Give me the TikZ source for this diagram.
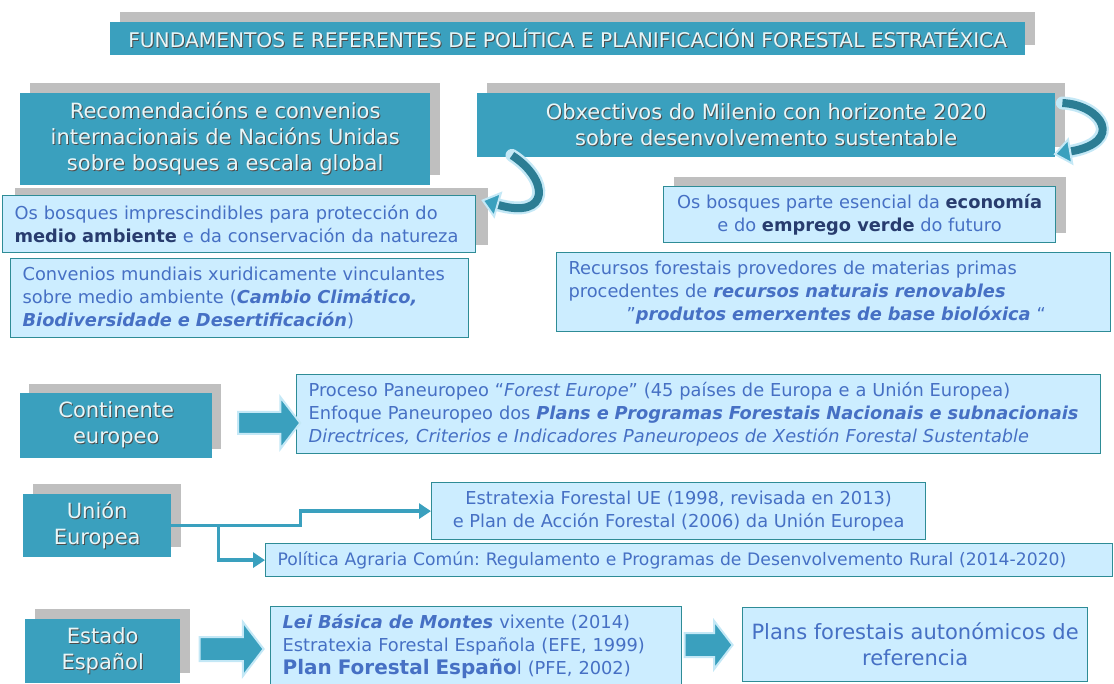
\documentclass[tikz,border=0pt]{standalone}
\usepackage{fontspec}
\setmainfont{DejaVu Sans}
\usetikzlibrary{shapes.arrows,shadows,arrows.meta,calc}
\definecolor{boxblue}{RGB}{58,160,190}
\definecolor{shgray}{RGB}{191,191,191}
\definecolor{lightfill}{RGB}{204,237,255}
\definecolor{lightedge}{RGB}{46,140,150}
\definecolor{txtblue}{RGB}{70,112,196}
\definecolor{txtdark}{RGB}{40,60,110}
\definecolor{paletxt}{RGB}{232,246,248}
\definecolor{arrowdark}{RGB}{44,125,148}
\definecolor{arrowlight}{RGB}{196,232,246}
\newcommand\shd[1]{\leavevmode\rlap{\kern1pt\raisebox{-1pt}{\color{black!70}#1}}#1}
\newcommand\embi[1]{{\bfseries\itshape #1}}
\newcommand\emdk[1]{{\color{txtdark}\bfseries #1}}
\tikzset{
  darkbox/.style={fill=boxblue, text=paletxt, align=center, anchor=north west, inner sep=0pt,
    font=\fontsize{21}{26}\selectfont},
  shad/.style={drop shadow={shadow xshift=#1, shadow yshift=#1, fill=shgray, opacity=1}},
  lightbox/.style={fill=lightfill, draw=lightedge, line width=1.2pt, text=txtblue,
    anchor=north west, inner sep=0pt, font=\fontsize{17.8}{23}\selectfont},
  blockarrow/.style={single arrow, fill=boxblue, draw=arrowlight, line width=2pt,
    inner sep=0pt, single arrow head extend=15pt, single arrow tip angle=105},
  conn/.style={draw=boxblue, line width=3.5pt, -{Triangle[length=12pt,width=15pt]}},
  curvout/.style={draw=arrowlight, line width=13pt, line cap=round},
  curvin/.style={draw=arrowdark, line width=8pt,
    -{Triangle[length=18pt,width=28pt,fill=boxblue,color=arrowlight,line width=2pt]}},
}
\begin{document}
\frenchspacing
\begin{tikzpicture}[x=1pt,y=-1pt]
\useasboundingbox (0,0) rectangle (1114,684);

% title
\node[darkbox, shad=10pt, minimum width=915pt, minimum height=33pt,
  font=\fontsize{20.2}{22}\selectfont] (title) at (110,22)
  {\shd{FUNDAMENTOS E REFERENTES DE POLÍTICA E PLANIFICACIÓN FORESTAL ESTRATÉXICA}};

% top left
\node[darkbox, shad=10pt, minimum width=410pt, minimum height=92pt] (A) at (20,93)
  {\shd{Recomendacións e convenios}\\\shd{internacionais de Nacións Unidas}\\\shd{sobre bosques a escala global}};
\node[lightbox, drop shadow={shadow xshift=12pt, shadow yshift=8pt, fill=shgray, opacity=1},
  minimum height=57pt, text width=449pt, inner xsep=12pt, align=left] (C) at (2,195)
  {Os bosques imprescindibles para protección do\\\emdk{medio ambiente} e da conservación da natureza};
\node[lightbox, minimum height=79pt, text width=434pt, inner xsep=12pt, align=left] (D) at (10,258)
  {Convenios mundiais xuridicamente vinculantes\\sobre medio ambiente (\embi{Cambio Climático,}\\\embi{Biodiversidade e Desertificación})};

% top right
\node[darkbox, shad=10pt, minimum width=578pt, minimum height=64pt] (B) at (477,93)
  {\shd{Obxectivos do Milenio con horizonte 2020}\\\shd{sobre desenvolvemento sustentable}};
\node[lightbox, shad=10pt, minimum width=392pt, minimum height=56pt, align=center] (E) at (663,186)
  {Os bosques parte esencial da \emdk{economía}\\e do \emdk{emprego verde} do futuro};
\node[lightbox, minimum height=79pt, text width=530pt, inner xsep=12pt, align=left] (F) at (556,252)
  {Recursos forestais provedores de materias primas\\procedentes de \embi{recursos naturais renovables}\\\hspace*{58pt}"\embi{produtos emerxentes de base biolóxica} “};

% curved arrows
\draw[curvout, shorten >=16pt] ($(B.south west)+(35,-2)$) .. controls (550,180) and (550,220) .. ($(C.north east)+(5,5)$);
\draw[curvin] ($(B.south west)+(35,-2)$) .. controls (550,180) and (550,220) .. ($(C.north east)+(5,5)$);
\draw[curvout, shorten >=16pt] ($(B.north east)+(7,10)$) .. controls (1102,105) and (1125,142) .. ($(B.south east)+(-2,-3)$);
\draw[curvin] ($(B.north east)+(7,10)$) .. controls (1102,105) and (1125,142) .. ($(B.south east)+(-2,-3)$);

% continente europeo
\node[darkbox, shad=9pt, minimum width=192pt, minimum height=65pt] (G) at (20,393)
  {\shd{Continente}\\\shd{europeo}};
\node[lightbox, minimum height=79pt, text width=780pt, inner xsep=12pt, align=left] (H) at (296,374)
  {Proceso Paneuropeo “\textit{Forest Europe}” (45 países de Europa e a Unión Europea)\\Enfoque Paneuropeo dos \embi{Plans e Programas Forestais Nacionais e subnacionais}\\\textit{Directrices, Criterios e Indicadores Paneuropeos de Xestión Forestal Sustentable}};
\node[blockarrow, minimum height=62pt] (ar1) at (265,423) {\rule{0pt}{20pt}};

% union europea
\node[darkbox, shad=10pt, minimum width=148pt, minimum height=63pt] (I) at (23,494)
  {\shd{Unión}\\\shd{Europea}};
\node[lightbox, minimum width=494pt, minimum height=57pt, align=center] (J) at (431,482)
  {Estratexia Forestal UE (1998, revisada en 2013)\\e Plan de Acción Forestal (2006) da Unión Europea};
\node[lightbox, minimum height=33pt, text width=823pt, inner xsep=12pt, align=left,
  font=\fontsize{17.2}{23}\selectfont] (K) at (265,543)
  {Política Agraria Común: Regulamento e Programas de Desenvolvemento Rural (2014-2020)};
\draw[conn] (I.east) -- ($(I.east)+(129,0)$) |- (J.west);
\draw[conn] ($(I.east)+(47,0)$) |- (K.west);

% estado espanol
\node[darkbox, shad=10pt, minimum width=155pt, minimum height=64pt] (L) at (25,619)
  {\shd{Estado}\\\shd{Español}};
\node[lightbox, minimum height=80pt, text width=387pt, inner xsep=12pt, align=left] (M) at (270,606)
  {\embi{Lei Básica de Montes} vixente (2014)\\Estratexia Forestal Española (EFE, 1999)\\{\fontsize{20}{23}\selectfont\bfseries Plan Forestal Españo}l (PFE, 2002)};
\node[lightbox, minimum width=345pt, minimum height=74pt, align=center,
  font=\fontsize{21}{26}\selectfont] (N) at (742,607)
  {Plans forestais autonómicos de\\referencia};
\node[blockarrow, minimum height=64pt] (ar2) at (227,649) {\rule{0pt}{22pt}};
\node[blockarrow, minimum height=48pt, single arrow head extend=12pt] (ar3) at (704,645) {\rule{0pt}{22pt}};
\end{tikzpicture}
\end{document}
